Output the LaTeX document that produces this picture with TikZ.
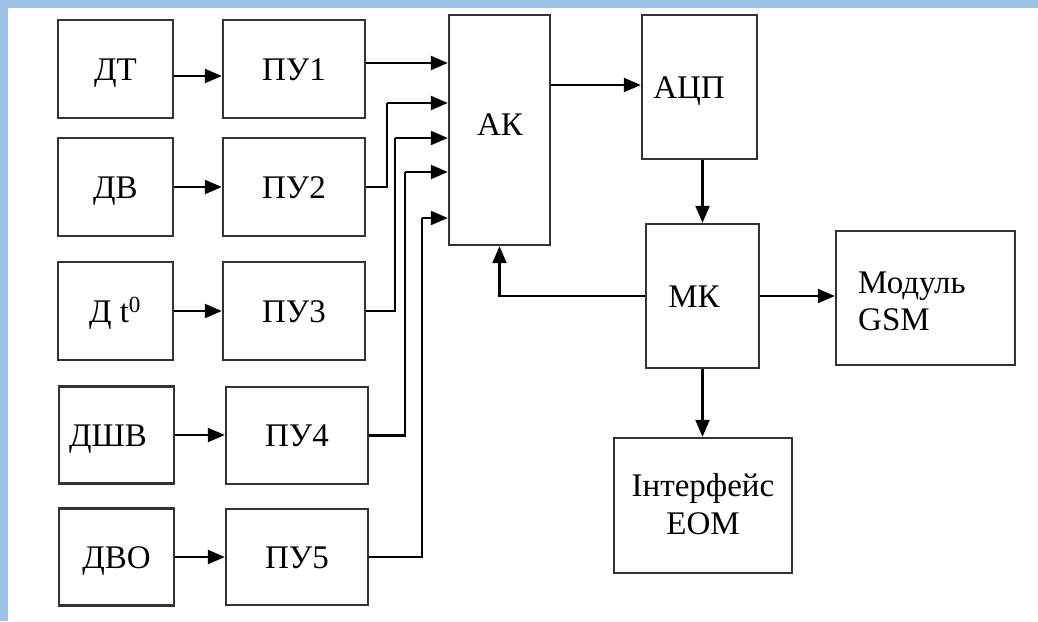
\documentclass[tikz,border=0pt]{standalone}
\usepackage{fontspec}
\setmainfont{Liberation Serif}
\usetikzlibrary{arrows.meta,calc}
\definecolor{frameblue}{HTML}{9DC3E6}
\definecolor{boxgray}{HTML}{333333}
\tikzset{
  blk/.style={draw=boxgray,line width=2.4pt,minimum width=#1,inner sep=0pt},
  arr/.style={draw=black,line width=2.2pt,-{Triangle[length=17pt,width=14pt]}},
  ln/.style={draw=black,line width=2.2pt},
  lbl/.style={font=\fontsize{33}{38}\selectfont,inner sep=0pt,text height=22pt,text depth=0pt}
}
\begin{document}
\begin{tikzpicture}[x=1pt,y=-1pt]
\useasboundingbox (0,0) rectangle (1038,621);
\fill[frameblue] (0,0) rectangle (1038,621);
\fill[white] (8,8) rectangle (1038,621);
% sensors
\node[blk=115pt,minimum height=98pt] (DT) at (115.5,69) {};
\node[blk=115pt,minimum height=98pt] (DV) at (115.5,187) {};
\node[blk=115pt,minimum height=98pt] (DTt) at (115.5,311) {};
\node[blk=115pt,minimum height=97pt] (DSV) at (116.5,435) {};
\node[blk=115pt,minimum height=97pt] (DVO) at (116.5,557) {};
\node[lbl] at (DT) {ДТ};
\node[lbl] at (DV) {ДВ};
\node[lbl] at (115,311) {Д t\textsuperscript{0}};
\node[lbl] at (108,435) {ДШВ};
\node[lbl] at (DVO) {ДВО};
% amplifiers
\node[blk=142pt,minimum height=98pt] (PU1) at (294,69) {};
\node[blk=142pt,minimum height=98pt] (PU2) at (294,187) {};
\node[blk=142pt,minimum height=98pt] (PU3) at (294,311) {};
\node[blk=142pt,minimum height=97pt] (PU4) at (297,435.5) {};
\node[blk=142pt,minimum height=96pt] (PU5) at (297,557) {};
\node[lbl] at (PU1) {ПУ1};
\node[lbl] at (PU2) {ПУ2};
\node[lbl] at (PU3) {ПУ3};
\node[lbl] at (PU4) {ПУ4};
\node[lbl] at (PU5) {ПУ5};
% AK
\node[blk=101pt,minimum height=230pt] (AK) at (499.5,130) {};
\node[lbl] at (500,124) {АК};
% ADC
\node[blk=115pt,minimum height=144pt] (ADC) at (699.5,87) {};
\node[lbl] at (689,87) {АЦП};
% MK
\node[blk=113pt,minimum height=144pt] (MK) at (702.5,296) {};
\node[lbl] at (694,296) {МК};
% GSM
\node[blk=179pt,minimum height=134pt] (GSM) at (925.5,298) {};
\node[lbl,anchor=west] at (858,282) {Модуль};
\node[lbl,anchor=west] at (858,319) {GSM};
% EOM
\node[blk=178pt,minimum height=135pt] (EOM) at (703,505.5) {};
\node[lbl] at (703,485) {Інтерфейс};
\node[lbl] at (703,523) {ЕОМ};
% sensor -> amplifier
\draw[arr] ([yshift=-7pt]DT.east) -- ([yshift=-7pt]PU1.west);
\draw[arr] (DV.east) -- (PU2.west);
\draw[arr] (DTt.east) -- (PU3.west);
\draw[arr] (DSV.east) -- (DSV.east -| PU4.west);
\draw[arr] (DVO.east) -- (DVO.east -| PU5.west);
% amplifiers -> AK
\coordinate (k2) at (387,103);
\coordinate (k3) at (395,138);
\coordinate (k4) at (405,172);
\coordinate (k5) at (422,218);
\draw[arr] ([yshift=6pt]PU1.east) -- ([yshift=6pt]PU1.east -| AK.west);
\draw[ln] (PU2.east) -| (k2);
\draw[arr] (k2) -- (k2 -| AK.west);
\draw[ln] (PU3.east) -| (k3);
\draw[arr] (k3) -- (k3 -| AK.west);
\draw[ln] (PU4.east) -| (k4);
\draw[arr] (k4) -- (k4 -| AK.west);
\draw[ln] (PU5.east) -| (k5);
\draw[arr] (k5) -- (k5 -| AK.west);
% AK -> ADC -> MK
\draw[arr] ([yshift=2pt]AK.east |- ADC.west) -- ([yshift=2pt]ADC.west);
\draw[arr] (MK.north |- ADC.south) -- (MK.north);
% MK outputs
\draw[arr] (MK.east) -- (MK.east -| GSM.west);
\draw[arr] (MK.south) -- (MK.south |- EOM.north);
\draw[arr] (MK.west) -| (AK.south);
\end{tikzpicture}
\end{document}
